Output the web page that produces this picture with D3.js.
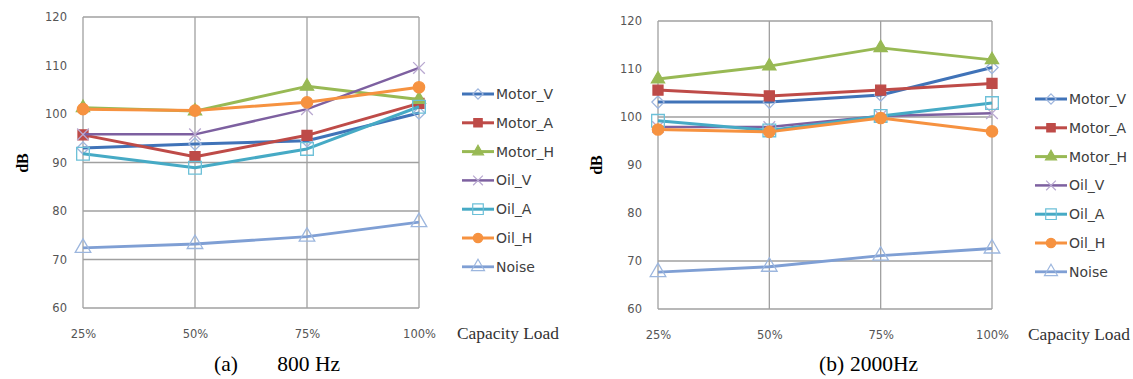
<!DOCTYPE html>
<html>
<head>
<meta charset="utf-8">
<script src="https://cdn.jsdelivr.net/npm/d3@7"></script>
<style>
  body { margin: 0; background: #fff; }
  svg { display: block; }
</style>
</head>
<body>
<script>
// categories on the x axis
const categories = ["25%", "50%", "75%", "100%"];
const seriesNames = ["Motor_V", "Motor_A", "Motor_H", "Oil_V", "Oil_A", "Oil_H", "Noise"];
const yTicks = [60, 70, 80, 90, 100, 110, 120];

// (a) 800 Hz
const motorV800 = [93.0, 93.8, 94.5, 100.2];
const motorA800 = [95.7, 91.2, 95.6, 102.2];
const motorH800 = [101.3, 100.6, 105.7, 103.0];
const oilV800 = [95.8, 95.8, 101.0, 109.5];
const oilA800 = [91.8, 88.9, 92.8, 101.5];
const oilH800 = [101.0, 100.7, 102.4, 105.5];
const noise800 = [72.4, 73.2, 74.7, 77.7];
const grid800 = [70, 80, 90];

// (b) 2000 Hz
const motorV2000 = [103.1, 103.1, 104.6, 110.3];
const motorA2000 = [105.6, 104.4, 105.6, 107.0];
const motorH2000 = [107.9, 110.6, 114.4, 111.9];
const oilV2000 = [97.9, 97.9, 100.2, 100.8];
const oilA2000 = [99.2, 97.2, 100.2, 102.9];
const oilH2000 = [97.4, 96.9, 99.8, 97.0];
const noise2000 = [67.7, 68.8, 71.1, 72.6];
const grid2000 = [70, 100];

// look of each series (excel 2010 style)
const styles = {
    Motor_V: { line: "#4073b8", width: 3, shape: "diamond", size: 95, fill: "none", stroke: "#9db5dd" },
    Motor_A: { line: "#be4b48", width: 3, shape: "square", size: 100, fill: "#be4b48", stroke: "#be4b48" },
    Motor_H: { line: "#98b954", width: 3, shape: "triangle", size: 75, fill: "#98b954", stroke: "#98b954" },
    Oil_V:   { line: "#7d60a0", width: 2.5, shape: "x", size: 90, fill: "none", stroke: "#b8a8d0" },
    Oil_A:   { line: "#46aac5", width: 3, shape: "square", size: 160, fill: "none", stroke: "#6cc0d8" },
    Oil_H:   { line: "#f69240", width: 3, shape: "circle", size: 100, fill: "#f69240", stroke: "#f69240" },
    Noise:   { line: "#7f9fd4", width: 2.8, shape: "triangle", size: 105, fill: "none", stroke: "#9cb6de" }
};

function shapeType(name) {
    if (name === "diamond") return d3.symbolDiamond2 || d3.symbolDiamond;
    if (name === "square") return d3.symbolSquare;
    if (name === "triangle") return d3.symbolTriangle;
    if (name === "x") return d3.symbolTimes || d3.symbolX || d3.symbolCross;
    return d3.symbolCircle;
}

const width = 1133, height = 379;

const svg = d3.select("body").append("svg")
    .attr("width", width)
    .attr("height", height);

const charts = [
    {
        values: [motorV800, motorA800, motorH800, oilV800, oilA800, oilH800, noise800],
        grid: grid800,
        x0: 83, x1: 419, y0: 17, y1: 308,
        legendX: 462, legendY: 94,
        loadX: 457, loadY: 339,
        dbX: 22, dbY: 163,
        capLabel: "(a)", capText: "800 Hz", capStart: 214, capEnd: 340
    },
    {
        values: [motorV2000, motorA2000, motorH2000, oilV2000, oilA2000, oilH2000, noise2000],
        grid: grid2000,
        x0: 658, x1: 992, y0: 21, y1: 309,
        legendX: 1035, legendY: 99,
        loadX: 1028, loadY: 340,
        dbX: 596, dbY: 165,
        capLabel: "(b)", capText: "2000Hz", capStart: 819, capEnd: 918
    }
];

charts.forEach(c => {
    const x = d3.scalePoint()
        .domain(categories)
        .range([c.x0, c.x1]);

    const y = d3.scaleLinear()
        .domain([60, 120])
        .range([c.y1, c.y0]);

    const g = svg.append("g");

    // vertical grid (one line per category)
    g.selectAll("line.vgrid")
        .data(categories)
        .enter().append("line")
        .attr("class", "vgrid")
        .attr("x1", d => x(d)).attr("x2", d => x(d))
        .attr("y1", c.y0).attr("y2", c.y1)
        .attr("stroke", "#a0a0a0")
        .attr("stroke-width", 1.3);

    // horizontal grid: top, bottom and the ones that still show
    g.selectAll("line.hgrid")
        .data([60, 120].concat(c.grid))
        .enter().append("line")
        .attr("class", "hgrid")
        .attr("x1", c.x0).attr("x2", c.x1)
        .attr("y1", d => y(d)).attr("y2", d => y(d))
        .attr("stroke", "#a0a0a0")
        .attr("stroke-width", 1.3);

    // y axis labels
    const yAxis = d3.axisLeft(y).tickValues(yTicks).tickSize(0).tickPadding(16);
    const ya = g.append("g")
        .attr("transform", `translate(${c.x0},0)`)
        .call(yAxis);
    ya.select(".domain").remove();
    ya.selectAll("text")
        .attr("font-family", "DejaVu Sans")
        .attr("font-size", 11.5)
        .attr("fill", "#555");

    // x axis labels
    const xAxis = d3.axisBottom(x).tickSize(0).tickPadding(22);
    const xa = g.append("g")
        .attr("transform", `translate(0,${c.y1})`)
        .call(xAxis);
    xa.select(".domain").remove();
    xa.selectAll("text")
        .attr("font-family", "DejaVu Sans")
        .attr("font-size", 11.5)
        .attr("fill", "#555");

    const line = d3.line()
        .x((d, i) => x(categories[i]))
        .y(d => y(d));

    c.values.forEach((vals, k) => {
        const s = styles[seriesNames[k]];
        g.append("path")
            .datum(vals)
            .attr("d", line)
            .attr("fill", "none")
            .attr("stroke", s.line)
            .attr("stroke-width", s.width)
            .attr("stroke-linejoin", "round");

        g.selectAll(null)
            .data(vals)
            .enter().append("path")
            .attr("transform", (d, i) => `translate(${x(categories[i])},${y(d)})`)
            .attr("d", d3.symbol().type(shapeType(s.shape)).size(s.size))
            .attr("fill", s.fill)
            .attr("stroke", s.stroke)
            .attr("stroke-width", 1.3);
    });

    // legend
    const leg = g.selectAll("g.legend")
        .data(seriesNames)
        .enter().append("g")
        .attr("class", "legend")
        .attr("transform", (d, i) => `translate(${c.legendX},${c.legendY + i * 28.8})`);

    leg.append("line")
        .attr("x1", 0).attr("x2", 32)
        .attr("stroke", d => styles[d].line)
        .attr("stroke-width", d => styles[d].width);

    leg.append("path")
        .attr("transform", "translate(16,0)")
        .attr("d", d => d3.symbol().type(shapeType(styles[d].shape)).size(styles[d].size * 0.7)())
        .attr("fill", d => styles[d].fill)
        .attr("stroke", d => styles[d].stroke)
        .attr("stroke-width", 1.2);

    leg.append("text")
        .attr("x", 34)
        .attr("dy", "0.36em")
        .attr("font-family", "DejaVu Sans")
        .attr("font-size", 14)
        .attr("fill", "#404040")
        .text(d => d);

    // axis titles
    g.append("text")
        .attr("x", c.loadX)
        .attr("y", c.loadY)
        .attr("font-family", "Liberation Serif")
        .attr("font-size", 16.5)
        .attr("textLength", 102)
        .attr("lengthAdjust", "spacingAndGlyphs")
        .attr("fill", "#333")
        .text("Capacity Load");

    g.append("text")
        .attr("transform", `translate(${c.dbX + 6},${c.dbY}) rotate(-90)`)
        .attr("text-anchor", "middle")
        .attr("font-family", "Liberation Serif")
        .attr("font-weight", "bold")
        .attr("font-size", 16)
        .attr("fill", "#000")
        .text("dB");

    // caption
    g.append("text")
        .attr("x", c.capStart)
        .attr("y", 371)
        .attr("font-family", "Liberation Serif")
        .attr("font-size", 21.5)
        .attr("fill", "#000")
        .text(c.capLabel);

    g.append("text")
        .attr("x", c.capEnd)
        .attr("y", 371)
        .attr("text-anchor", "end")
        .attr("font-family", "Liberation Serif")
        .attr("font-size", 21.5)
        .attr("fill", "#000")
        .text(c.capText);
});
</script>
</body>
</html>
